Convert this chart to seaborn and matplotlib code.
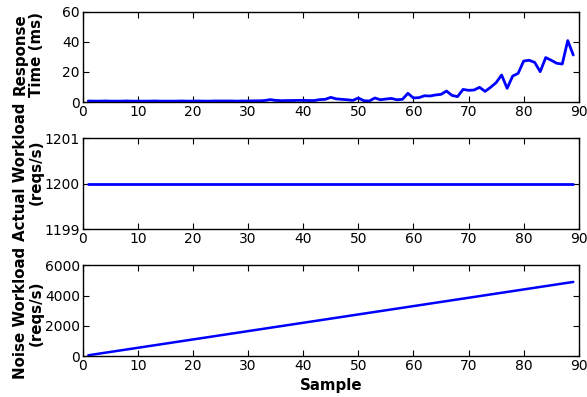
import seaborn as sns
import matplotlib.pyplot as plt
import matplotlib.ticker as mticker
import pandas as pd

# sample numbers
samples = list(range(1, 90))

# response time (ms)
response_ms = [
    0.7, 0.6, 0.6, 0.7, 0.6, 0.6, 0.6, 0.7, 0.6, 0.6,
    0.6, 0.6, 0.7, 0.6, 0.6, 0.6, 0.6, 0.7, 0.6, 0.6,
    0.7, 0.6, 0.6, 0.7, 0.7, 0.7, 0.7, 0.6, 0.7, 0.7,
    0.8, 0.8, 1.0, 1.6, 1.1, 0.9, 1.0, 1.0, 1.1, 1.1,
    1.0, 1.0, 1.6, 1.8, 3.1, 2.1, 1.8, 1.5, 1.1, 2.7,
    0.9, 0.7, 2.7, 1.5, 2.0, 2.4, 1.5, 1.8, 5.8, 2.7,
    2.9, 4.2, 4.0, 4.7, 5.1, 7.3, 4.4, 3.6, 8.4, 7.8,
    8.0, 9.8, 7.1, 9.8, 12.9, 18.0, 9.1, 17.3, 19.1, 27.3,
    27.8, 26.4, 20.2, 29.6, 27.8, 25.8, 25.3, 40.9, 31.3,
]

# actual workload (reqs/s)
actual_rps = [
    1200, 1200, 1200, 1200, 1200, 1200, 1200, 1200, 1200, 1200,
    1200, 1200, 1200, 1200, 1200, 1200, 1200, 1200, 1200, 1200,
    1200, 1200, 1200, 1200, 1200, 1200, 1200, 1200, 1200, 1200,
    1200, 1200, 1200, 1200, 1200, 1200, 1200, 1200, 1200, 1200,
    1200, 1200, 1200, 1200, 1200, 1200, 1200, 1200, 1200, 1200,
    1200, 1200, 1200, 1200, 1200, 1200, 1200, 1200, 1200, 1200,
    1200, 1200, 1200, 1200, 1200, 1200, 1200, 1200, 1200, 1200,
    1200, 1200, 1200, 1200, 1200, 1200, 1200, 1200, 1200, 1200,
    1200, 1200, 1200, 1200, 1200, 1200, 1200, 1200, 1200,
]

# noise workload (reqs/s)
noise_rps = [
    55, 110, 165, 220, 275, 330, 385, 440, 495, 550,
    605, 660, 715, 770, 825, 880, 935, 990, 1045, 1100,
    1155, 1210, 1265, 1320, 1375, 1430, 1485, 1540, 1595, 1650,
    1705, 1760, 1815, 1870, 1925, 1980, 2035, 2090, 2145, 2200,
    2255, 2310, 2365, 2420, 2475, 2530, 2585, 2640, 2695, 2750,
    2805, 2860, 2915, 2970, 3025, 3080, 3135, 3190, 3245, 3300,
    3355, 3410, 3465, 3520, 3575, 3630, 3685, 3740, 3795, 3850,
    3905, 3960, 4015, 4070, 4125, 4180, 4235, 4290, 4345, 4400,
    4455, 4510, 4565, 4620, 4675, 4730, 4785, 4840, 4895,
]

df = pd.DataFrame({
    'Sample': samples,
    'Response': response_ms,
    'Actual': actual_rps,
    'Noise': noise_rps,
})

sns.set_style('ticks')
plt.rcParams['font.family'] = ['DejaVu Sans']
plt.rcParams['text.color'] = 'black'
plt.rcParams['axes.labelcolor'] = 'black'
plt.rcParams['xtick.color'] = 'black'
plt.rcParams['ytick.color'] = 'black'
plt.rcParams['axes.edgecolor'] = 'black'

tick_size = 10
label_size = 10.8
blue = '#0000ff'

fig = plt.figure(figsize=(5.87, 3.97), dpi=100)
ax1 = fig.add_axes([0.141, 0.743, 0.845, 0.227])
ax2 = fig.add_axes([0.141, 0.423, 0.845, 0.229])
ax3 = fig.add_axes([0.141, 0.103, 0.845, 0.229])

sns.lineplot(data=df, x='Sample', y='Response', ax=ax1, color=blue, linewidth=2)
sns.lineplot(data=df, x='Sample', y='Actual', ax=ax2, color=blue, linewidth=2)
sns.lineplot(data=df, x='Sample', y='Noise', ax=ax3, color=blue, linewidth=1.8)

ax1.set_ylim(0, 60)
ax1.set_yticks([0, 20, 40, 60])
ax2.set_ylim(1199, 1201)
ax2.set_yticks([1199, 1200, 1201])
ax2.yaxis.set_major_formatter(mticker.ScalarFormatter(useOffset=False))
ax3.set_ylim(0, 6000)
ax3.set_yticks([0, 2000, 4000, 6000])

ylabels = ['Response\nTime (ms)', 'Actual Workload\n(reqs/s)', 'Noise Workload\n(reqs/s)']
label_y = [0.53, 0.625, 0.47]
for ax, lab, ly in zip([ax1, ax2, ax3], ylabels, label_y):
    ax.set_xlim(0, 90)
    ax.set_xticks(range(0, 91, 10))
    ax.tick_params(direction='in', top=True, right=True, labelsize=tick_size,
                   length=4, width=0.8, pad=2, colors='black')
    for sp in ax.spines.values():
        sp.set_linewidth(1.0)
        sp.set_color('black')
    ax.set_xlabel('')
    ax.set_ylabel(lab, fontsize=label_size, fontweight='bold', linespacing=1.1,
                  color='black')
    ax.yaxis.set_label_coords(-0.078, ly)

ax3.set_xlabel('Sample', fontsize=label_size, fontweight='bold', labelpad=4,
               color='black')

fig.savefig('out.png', dpi=100)
